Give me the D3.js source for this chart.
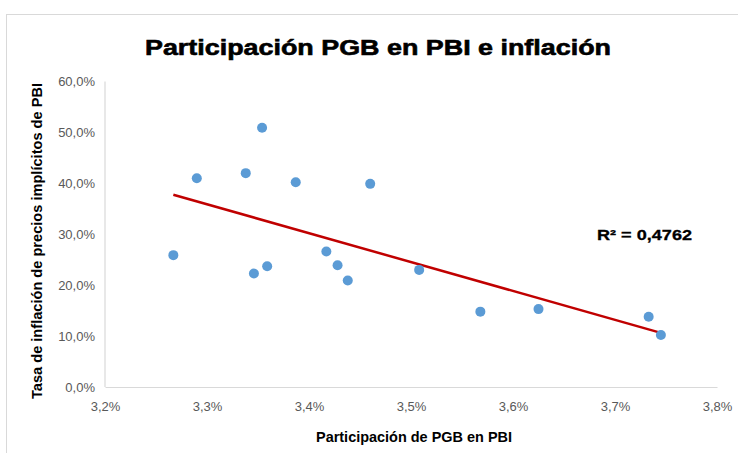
<!DOCTYPE html>
<html>
<head>
<meta charset="utf-8">
<script src="https://cdn.jsdelivr.net/npm/d3@7"></script>
<style>
  html, body { margin: 0; padding: 0; background: #fff; }
  svg { display: block; }
</style>
</head>
<body>
<svg id="chart" width="738" height="453"></svg>
<script>
// ---- Data ----
const participacion = [3.267, 3.290, 3.338, 3.354, 3.346, 3.359, 3.387, 3.417, 3.428, 3.438, 3.460, 3.508, 3.568, 3.625, 3.733, 3.745];
const inflacion     = [25.9, 41.0, 42.0, 50.9, 22.3, 23.7, 40.2, 26.6, 23.9, 20.9, 39.9, 23.0, 14.8, 15.3, 13.8, 10.2];
const xTicks = [3.2, 3.3, 3.4, 3.5, 3.6, 3.7, 3.8];
const yTicks = [0, 10, 20, 30, 40, 50, 60];
const chartTitle = "Participación PGB en PBI e inflación";
const xTitle = "Participación de PGB en PBI";
const yTitle = "Tasa de inflación de precios implícitos de PBI";
const r2Label = "R² = 0,4762";

const svg = d3.select("#chart");
const locale = d3.formatLocale({decimal: ",", thousands: ".", grouping: [3], currency: ["$", ""]});
const fmt = locale.format(".1f");

const x = d3.scaleLinear().domain([3.2, 3.8]).range([105, 717]);
const y = d3.scaleLinear().domain([0, 60]).range([387, 81.5]);

// chart border
svg.append("rect").attr("x", 6.5).attr("y", 14.5).attr("width", 760).attr("height", 460)
  .attr("fill", "#fff").attr("stroke", "#d9d9d9").attr("stroke-width", 1);

// title
svg.append("text").attr("x", 378).attr("y", 55).attr("text-anchor", "middle")
  .attr("font-family", "Liberation Sans, Arial, sans-serif").attr("font-weight", "bold")
  .attr("font-size", 22).attr("fill", "#000").attr("stroke", "#000").attr("stroke-width", 0.6)
  .attr("textLength", 466).attr("lengthAdjust", "spacingAndGlyphs")
  .text(chartTitle);

// axes
const xAxis = d3.axisBottom(x).tickValues(xTicks).tickSize(0).tickPadding(15).tickFormat(d => fmt(d) + "%");
const yAxis = d3.axisLeft(y).tickValues(yTicks).tickSize(0).tickPadding(10).tickFormat(d => fmt(d) + "%");

const gx = svg.append("g").attr("transform", `translate(0,${y(0)})`).call(xAxis);
const gy = svg.append("g").attr("transform", `translate(${x(3.2)},0)`).call(yAxis);
gy.select(".domain").remove();
gx.select(".domain").attr("stroke", "#d9d9d9").attr("stroke-width", 1.2);
svg.append("line").attr("x1", x(3.2)).attr("x2", x(3.2)).attr("y1", y(60)).attr("y2", y(0))
  .attr("stroke", "#d9d9d9").attr("stroke-width", 1.2);
[gx, gy].forEach(g => g.selectAll("text")
  .attr("font-family", "Liberation Sans, Arial, sans-serif")
  .attr("font-size", 13).attr("fill", "#595959"));

// axis titles
svg.append("text").attr("x", 414).attr("y", 442).attr("text-anchor", "middle")
  .attr("font-family", "Liberation Sans Narrow, Liberation Sans, sans-serif").attr("font-weight", "bold")
  .attr("font-size", 14.5).attr("fill", "#000")
  .attr("textLength", 196).attr("lengthAdjust", "spacingAndGlyphs").text(xTitle);
svg.append("text").attr("transform", "translate(42,241) rotate(-90)").attr("text-anchor", "middle")
  .attr("font-family", "Liberation Sans, Arial, sans-serif").attr("font-weight", "bold")
  .attr("font-size", 14).attr("fill", "#000")
  .attr("textLength", 316).attr("lengthAdjust", "spacingAndGlyphs").text(yTitle);

// trendline (least squares)
const n = participacion.length;
const mx = d3.mean(participacion), my = d3.mean(inflacion);
let sxy = 0, sxx = 0;
for (let i = 0; i < n; i++) { sxy += (participacion[i] - mx) * (inflacion[i] - my); sxx += (participacion[i] - mx) ** 2; }
const slope = sxy / sxx, intercept = my - slope * mx;
const x0 = d3.min(participacion), x1 = d3.max(participacion);
svg.append("line").attr("x1", x(x0)).attr("y1", y(intercept + slope * x0))
  .attr("x2", x(x1)).attr("y2", y(intercept + slope * x1))
  .attr("stroke", "#C00000").attr("stroke-width", 2.5);

// points
svg.append("g").selectAll("circle").data(d3.range(n)).join("circle")
  .attr("cx", i => x(participacion[i])).attr("cy", i => y(inflacion[i]))
  .attr("r", 5).attr("fill", "#5B9BD5");

// R² label
svg.append("text").attr("x", 597).attr("y", 240)
  .attr("font-family", "Liberation Sans, Arial, sans-serif").attr("font-weight", "bold")
  .attr("font-size", 15).attr("fill", "#000").attr("stroke", "#000").attr("stroke-width", 0.3)
  .attr("textLength", 95).attr("lengthAdjust", "spacingAndGlyphs")
  .text(r2Label);
</script>
</body>
</html>
